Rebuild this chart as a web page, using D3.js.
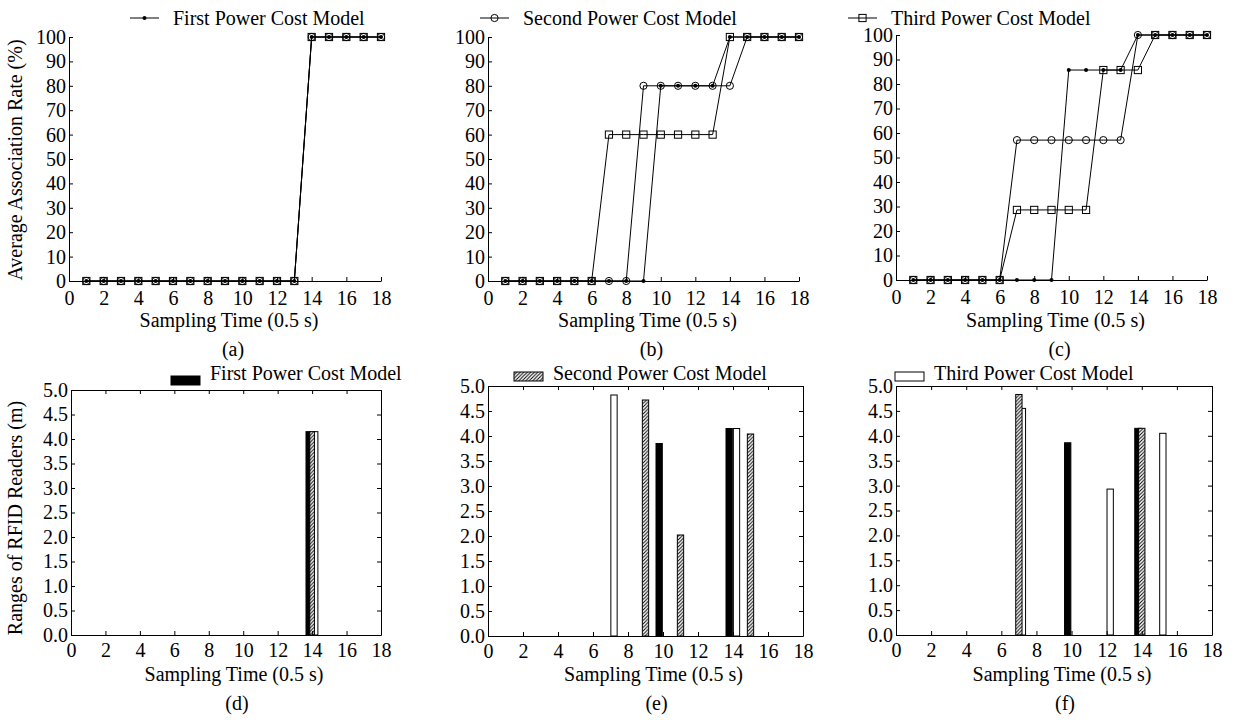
<!DOCTYPE html>
<html>
<head>
<meta charset="utf-8">
<script src="https://cdn.jsdelivr.net/npm/d3@7"></script>
<style>
  body { margin: 0; background: #fff; }
  svg text { font-family: "Liberation Serif", "Times New Roman", serif; font-size: 20px; fill: #000; }
</style>
</head>
<body>
<svg id="chart" width="1233" height="720"></svg>
<script>
// sampling instants and ticks
const timeSteps = [1, 2, 3, 4, 5, 6, 7, 8, 9, 10, 11, 12, 13, 14, 15, 16, 17, 18];
const timeTicks = [0, 2, 4, 6, 8, 10, 12, 14, 16, 18];
const rateTicks = [0, 10, 20, 30, 40, 50, 60, 70, 80, 90, 100];
const rangeTicks = [0, 0.5, 1, 1.5, 2, 2.5, 3, 3.5, 4, 4.5, 5];
const modelNames = ["First Power Cost Model", "Second Power Cost Model", "Third Power Cost Model"];
const captions = ["(a)", "(b)", "(c)", "(d)", "(e)", "(f)"];

// average association rate (%) — panels a, b, c; one array per model
const rateA1 = [0, 0, 0, 0, 0, 0, 0, 0, 0, 0, 0, 0, 0, 100, 100, 100, 100, 100];
const rateA2 = [0, 0, 0, 0, 0, 0, 0, 0, 0, 0, 0, 0, 0, 100, 100, 100, 100, 100];
const rateA3 = [0, 0, 0, 0, 0, 0, 0, 0, 0, 0, 0, 0, 0, 100, 100, 100, 100, 100];

const rateB1 = [0, 0, 0, 0, 0, 0, 0, 0, 0, 80, 80, 80, 80, 100, 100, 100, 100, 100];
const rateB2 = [0, 0, 0, 0, 0, 0, 0, 0, 80, 80, 80, 80, 80, 80, 100, 100, 100, 100];
const rateB3 = [0, 0, 0, 0, 0, 0, 60, 60, 60, 60, 60, 60, 60, 100, 100, 100, 100, 100];

const rateC1 = [0, 0, 0, 0, 0, 0, 0, 0, 0, 85.7, 85.7, 85.7, 85.7, 100, 100, 100, 100, 100];
const rateC2 = [0, 0, 0, 0, 0, 0, 57.1, 57.1, 57.1, 57.1, 57.1, 57.1, 57.1, 100, 100, 100, 100, 100];
const rateC3 = [0, 0, 0, 0, 0, 0, 28.6, 28.6, 28.6, 28.6, 28.6, 85.7, 85.7, 85.7, 100, 100, 100, 100];

// ranges of RFID readers (m) — panels d, e, f; 0 = no bar
const rangeD1 = [0, 0, 0, 0, 0, 0, 0, 0, 0, 0, 0, 0, 0, 4.15, 0, 0, 0, 0];
const rangeD2 = [0, 0, 0, 0, 0, 0, 0, 0, 0, 0, 0, 0, 0, 4.15, 0, 0, 0, 0];
const rangeD3 = [0, 0, 0, 0, 0, 0, 0, 0, 0, 0, 0, 0, 0, 4.15, 0, 0, 0, 0];

const rangeE1 = [0, 0, 0, 0, 0, 0, 0, 0, 0, 3.85, 0, 0, 0, 4.15, 0, 0, 0, 0];
const rangeE2 = [0, 0, 0, 0, 0, 0, 0, 0, 4.72, 0, 2.02, 0, 0, 0, 4.04, 0, 0, 0];
const rangeE3 = [0, 0, 0, 0, 0, 0, 4.82, 0, 0, 0, 0, 0, 0, 4.15, 0, 0, 0, 0];

const rangeF1 = [0, 0, 0, 0, 0, 0, 0, 0, 0, 3.86, 0, 0, 0, 4.15, 0, 0, 0, 0];
const rangeF2 = [0, 0, 0, 0, 0, 0, 4.83, 0, 0, 0, 0, 0, 0, 4.15, 0, 0, 0, 0];
const rangeF3 = [0, 0, 0, 0, 0, 0, 4.55, 0, 0, 0, 0, 2.93, 0, 0, 4.05, 0, 0, 0];

const svg = d3.select("#chart");

// hatch for the second model
svg.append("defs").append("pattern")
    .attr("id", "hatch")
    .attr("patternUnits", "userSpaceOnUse")
    .attr("width", 3.5).attr("height", 3.5)
    .call(p => p.append("rect").attr("width", 3.5).attr("height", 3.5).attr("fill", "#fff"))
    .append("path")
    .attr("d", "M-1,1 l2,-2 M0,3.5 l3.5,-3.5 M2.5,4.5 l2,-2")
    .attr("stroke", "#000").attr("stroke-width", 1);

const barFill = ["#000", "url(#hatch)", "#fff"];
const barShift = [-0.22, 0, 0.2];
const barOrder = [0, 2, 1];

function drawMarker(g, kind, x, y) {
    if (kind == 0) {
        g.append("circle").attr("cx", x).attr("cy", y).attr("r", 2).attr("fill", "#000");
    } else if (kind == 1) {
        g.append("circle").attr("cx", x).attr("cy", y).attr("r", 3.6)
            .attr("fill", "none").attr("stroke", "#000").attr("stroke-width", 1);
    } else {
        g.append("rect").attr("x", x - 3.6).attr("y", y - 3.6).attr("width", 7.2).attr("height", 7.2)
            .attr("fill", "none").attr("stroke", "#000").attr("stroke-width", 1);
    }
}

function axes(g, x, y, yTicks, yFmt, boxed) {
    let xb = y.range()[0], yt = y.range()[1];
    g.append("g").attr("transform", `translate(0,${xb})`)
        .call(d3.axisBottom(x).tickValues(timeTicks).tickSizeInner(-4).tickSizeOuter(0).tickPadding(boxed ? 8 : 10));
    g.append("g").attr("transform", `translate(${x.range()[0]},0)`)
        .call(d3.axisLeft(y).tickValues(yTicks).tickFormat(yFmt).tickSizeInner(-4).tickSizeOuter(0).tickPadding(3));
    if (boxed) {
        g.append("g").attr("transform", `translate(0,${yt})`)
            .call(d3.axisTop(x).tickValues(timeTicks).tickFormat("").tickSizeInner(-4).tickSizeOuter(0));
        g.append("g").attr("transform", `translate(${x.range()[1]},0)`)
            .call(d3.axisRight(y).tickValues(yTicks).tickFormat("").tickSizeInner(-4).tickSizeOuter(0));
    }
    g.selectAll(".domain").attr("stroke", "#000");
    g.selectAll(".tick line").attr("stroke", "#000");
    g.selectAll(".tick text").style("font-size", "20px").style("font-family", "Liberation Serif, serif");
}

function linePanel(p, seriesList, which) {
    let g = svg.append("g");
    let x = d3.scaleLinear().domain([0, 18]).range([p.x0, p.x1]);
    let y = d3.scaleLinear().domain([0, 100]).range([p.y0, p.y1]);
    axes(g, x, y, rateTicks, d3.format("d"), false);

    let line = d3.line().x((d, i) => x(timeSteps[i])).y(d => y(d));
    seriesList.forEach(vals => {
        g.append("path").datum(vals).attr("d", line)
            .attr("fill", "none").attr("stroke", "#000").attr("stroke-width", 1);
    });
    seriesList.forEach((vals, k) => {
        vals.forEach((v, i) => drawMarker(g, k, x(timeSteps[i]), y(v)));
    });

    // legend (one model per panel)
    let ly = 18;
    g.append("line").attr("x1", p.lx).attr("x2", p.lx + 29).attr("y1", ly).attr("y2", ly)
        .attr("stroke", "#000").attr("stroke-width", 1);
    drawMarker(g, which, p.lx + 14.5, ly);
    g.append("text").attr("x", p.lx + 43).attr("y", 25).text(modelNames[which]);

    g.append("text").attr("x", (p.x0 + p.x1) / 2 + 4).attr("y", 327).attr("text-anchor", "middle")
        .text("Sampling Time (0.5 s)");
    g.append("text").attr("x", (p.x0 + p.x1) / 2 + 8).attr("y", 356).attr("text-anchor", "middle")
        .text(captions[which]);
}

function barPanel(p, seriesList, which) {
    let g = svg.append("g");
    let x = d3.scaleLinear().domain([0, 18]).range([p.x0, p.x1]);
    let y = d3.scaleLinear().domain([0, 5]).range([p.y0, p.y1]);
    let w = x(p.bw) - x(0);

    barOrder.forEach(k => {
        let bars = timeSteps.map((t, i) => ({ t: t, v: seriesList[k][i] })).filter(d => d.v > 0);
        g.selectAll(null).data(bars).join("rect")
            .attr("x", d => x(d.t + barShift[k]) - w / 2)
            .attr("width", w)
            .attr("y", d => y(d.v))
            .attr("height", d => y(0) - y(d.v))
            .attr("fill", barFill[k])
            .attr("stroke", "#000").attr("stroke-width", 1);
    });

    axes(g, x, y, rangeTicks, d3.format(".1f"), true);

    // legend
    let ly = p.y1 - 14;
    g.append("rect").attr("x", p.lx).attr("y", ly).attr("width", 29).attr("height", 9)
        .attr("fill", barFill[which]).attr("stroke", "#000").attr("stroke-width", 1);
    g.append("text").attr("x", p.lx + 39).attr("y", 380).text(modelNames[which]);

    g.append("text").attr("x", (p.x0 + p.x1) / 2 + 8).attr("y", 681).attr("text-anchor", "middle")
        .text("Sampling Time (0.5 s)");
    g.append("text").attr("x", (p.x0 + p.x1) / 2 + 11).attr("y", 710).attr("text-anchor", "middle")
        .text(captions[which + 3]);
}

linePanel({ x0: 69, x1: 381, y0: 281, y1: 37, lx: 130 }, [rateA1, rateA2, rateA3], 0);
linePanel({ x0: 488, x1: 799, y0: 281, y1: 37, lx: 480 }, [rateB1, rateB2, rateB3], 1);
linePanel({ x0: 896, x1: 1207, y0: 280, y1: 35, lx: 848 }, [rateC1, rateC2, rateC3], 2);

barPanel({ x0: 71, x1: 381, y0: 635, y1: 390, lx: 171, bw: 0.27 }, [rangeD1, rangeD2, rangeD3], 0);
barPanel({ x0: 488, x1: 803, y0: 636, y1: 386, lx: 514, bw: 0.36 }, [rangeE1, rangeE2, rangeE3], 1);
barPanel({ x0: 896, x1: 1212, y0: 635, y1: 386, lx: 895, bw: 0.36 }, [rangeF1, rangeF2, rangeF3], 2);

// y titles
svg.append("text").attr("transform", "translate(22,160) rotate(-90)").attr("text-anchor", "middle")
    .text("Average Association Rate (%)");
svg.append("text").attr("transform", "translate(22,518) rotate(-90)").attr("text-anchor", "middle")
    .text("Ranges of RFID Readers (m)");
</script>
</body>
</html>
